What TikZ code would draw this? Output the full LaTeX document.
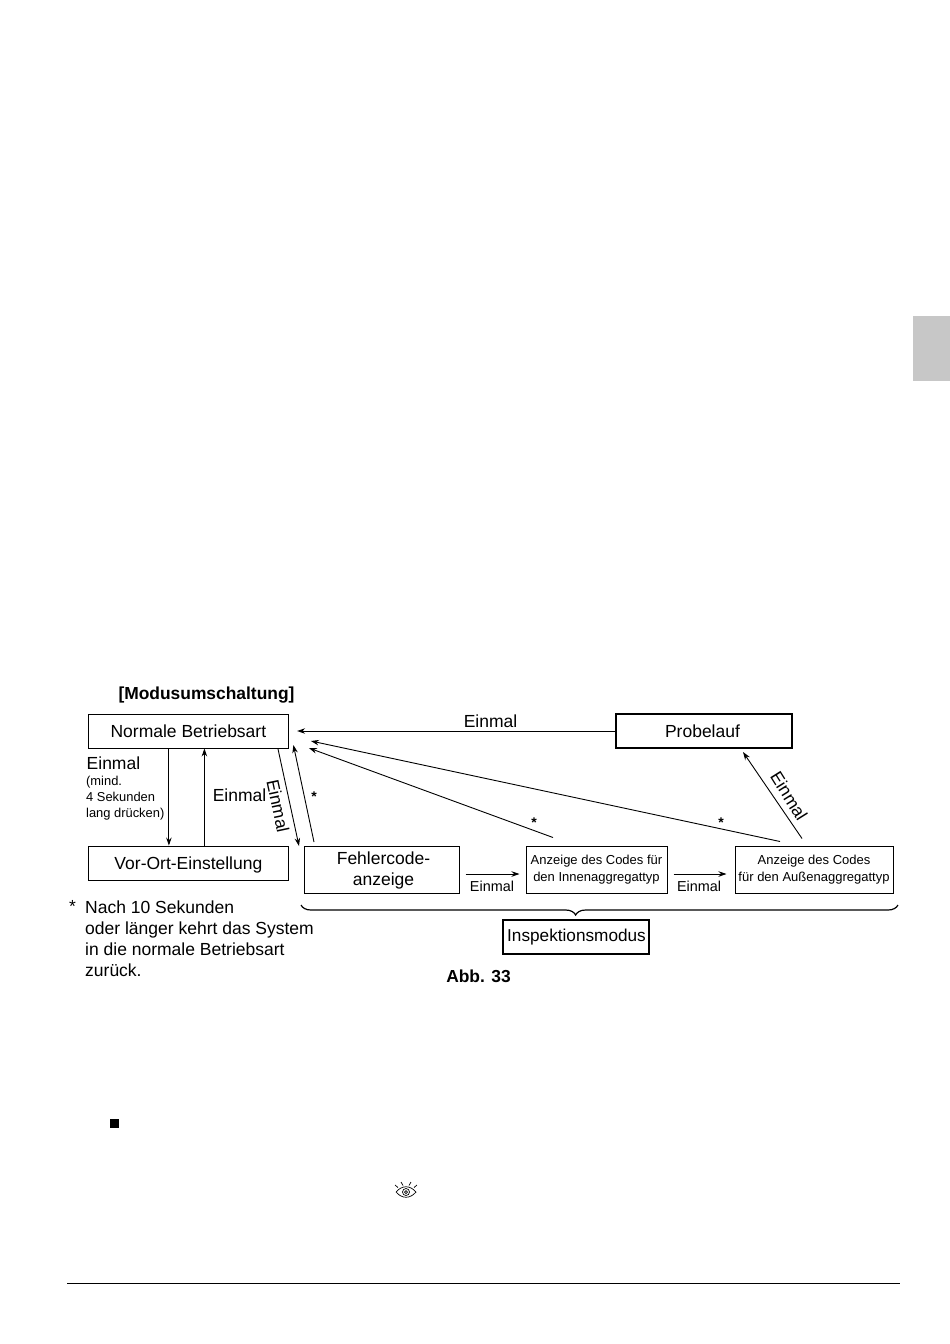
\documentclass[tikz,border=0pt]{standalone}
\usepackage{fontspec}
\setmainfont{Liberation Sans}
\usetikzlibrary{arrows.meta, decorations.pathreplacing}
\tikzset{
    modebox/.style={draw, line width=1pt, inner sep=0pt, align=center},
    heavybox/.style={modebox, line width=2pt},
    bigtext/.style={font=\fontsize{17.5}{21}\selectfont, align=center},
    smalltext/.style={font=\fontsize{13}{17}\selectfont, align=center},
    onceabove/.style={font=\fontsize{17.5}{21}\selectfont, inner sep=0pt},
    oncebelow/.style={font=\fontsize{14.4}{17}\selectfont, inner sep=0pt},
    staronly/.style={font=\bfseries\fontsize{14}{14}\selectfont, inner sep=0pt},
    arrow/.style={-{Stealth[length=8pt, width=5.5pt]}, line width=0.9pt}
}
\begin{document}
\begin{tikzpicture}[x=1pt, y=-1pt]
        \useasboundingbox (0,0) rectangle (950,1344);

        % Page furniture
        \fill[black!22] (913,316) rectangle (950,381);
        \draw[line width=0.9pt] (67,1283) -- (900,1283);
        \fill (110,1119) rectangle (119,1128);

        % Eye
        \begin{scope}[shift={(406,1192)}, line width=0.7pt]
            \draw (-10,0) .. controls (-4,-7) and (4,-7) .. (10,0) .. controls (4,7) and (-4,7) .. (-10,0);
            \draw (0,0) circle (3.5);
            \draw (0,0) circle (1.5);
            \draw (-5,-10) -- (-3,-6.5);
            \draw (5,-10) -- (3,-6.5);
            \draw (-11,-7) -- (-8,-4.5);
            \draw (11,-7) -- (8,-4.5);
        \end{scope}

        % Title
        \node[font=\bfseries\fontsize{17.4}{21}\selectfont, inner sep=0pt] (title) at (206.5,695) {[Modusumschaltung]};
        \node[font=\bfseries\fontsize{17.4}{21}\selectfont, inner sep=0pt] (figlabel) at (478.5,976) {Abb. 33};

        % Boxes
        \node[modebox, bigtext, minimum width=200.5pt, minimum height=34pt] (normal) at (188.4,731) {Normale Betriebsart};
        \node[modebox, bigtext, text depth=0pt, minimum width=200.5pt, minimum height=34pt] (vorort) at (188.4,863) {Vor-Ort-Einstellung};
        \node[heavybox, bigtext, minimum width=176pt, minimum height=34pt] (probe) at (703.5,731) {\hspace*{-2pt}Probelauf};
        \node[modebox, bigtext, minimum width=155pt, minimum height=47pt] (fehler) at (381.5,870) {\hspace*{4pt}Fehlercode-\\\hspace*{4pt}anzeige};
        \node[modebox, smalltext, minimum width=141pt, minimum height=47pt] (inner) at (596.5,869.5) {Anzeige des Codes für\\den Innenaggregattyp};
        \node[modebox, smalltext, minimum width=158pt, minimum height=47pt] (outer) at (814,869.5) {Anzeige des Codes\\für den Außenaggregattyp};
        \node[heavybox, font=\fontsize{17.2}{21}\selectfont, minimum width=146pt, minimum height=34pt] (inspect) at (576,937) {\hspace*{1pt}Inspektionsmodus};

        % Arrows
        \draw[arrow] (probe.west) -- ([xshift=8pt]normal.east);
        \draw[arrow] ([xshift=-19.5pt]normal.south) -- ([xshift=-19.5pt]vorort.north);
        \draw[arrow] ([xshift=16pt]vorort.north) -- ([xshift=16pt]normal.south);
        \draw[arrow] ([xshift=89.5pt]normal.south) -- ([xshift=-82.5pt]fehler.north);
        \draw[arrow] ([xshift=-67.5pt,yshift=4pt]fehler.north) -- ([xshift=105pt,yshift=-14pt]normal.center);
        \draw[arrow] ([xshift=-43.5pt,yshift=8pt]inner.north) -- ([xshift=120.5pt,yshift=-17pt]normal.center);
        \draw[arrow] ([xshift=-34pt,yshift=4pt]outer.north) -- ([xshift=122.5pt,yshift=-10pt]normal.center);
        \draw[arrow] ([xshift=-12pt,yshift=7pt]outer.north) -- ([xshift=39.5pt,yshift=-3pt]probe.south);
        \draw[arrow] ([xshift=6pt,yshift=-4pt]fehler.east) -- ([xshift=-6pt,yshift=-4.5pt]inner.west);
        \draw[arrow] ([xshift=6pt,yshift=-4.5pt]inner.east) -- ([xshift=-8pt,yshift=-4.5pt]outer.west);

        % Labels on the arrows
        \node[onceabove] (once1) at (490.5,721) {Einmal};
        \node[onceabove, anchor=west] (once2) at (86.5,763) {Einmal};
        \node[onceabove] (once3) at (239.5,795) {Einmal};
        \node[onceabove, rotate=-78] (once4) at (278,806) {Einmal};
        \node[onceabove, rotate=-58] (once5) at (789,796) {Einmal};
        \node[oncebelow] (once6) at (492,886) {Einmal};
        \node[oncebelow] (once7) at (699,886) {Einmal};
        \node[font=\fontsize{12.9}{16}\selectfont, align=left, anchor=north west, inner sep=0pt] (press) at (86,776) {(mind.\\4 Sekunden\\lang drücken)};
        \node[staronly] (star1) at (314,797) {*};
        \node[staronly] (star2) at (534,823) {*};
        \node[staronly] (star3) at (721,823) {*};

        % Brace
        \coordinate (braceleft) at (301,905);
        \coordinate (braceright) at (898,905);
        \draw[line width=1.2pt, decorate, decoration={brace, mirror, amplitude=10pt, aspect=0.46}] (braceleft) -- (braceright);

        % Footnote
        \node[font=\fontsize{17.5}{21}\selectfont, inner sep=0pt] (star4) at (72.5,906) {*};
        \node[font=\fontsize{17.5}{21}\selectfont, align=left, anchor=north west, inner sep=0pt] (note) at (85,901) {Nach 10 Sekunden\\oder länger kehrt das System\\in die normale Betriebsart\\zurück.};
    \end{tikzpicture}
\end{document}
